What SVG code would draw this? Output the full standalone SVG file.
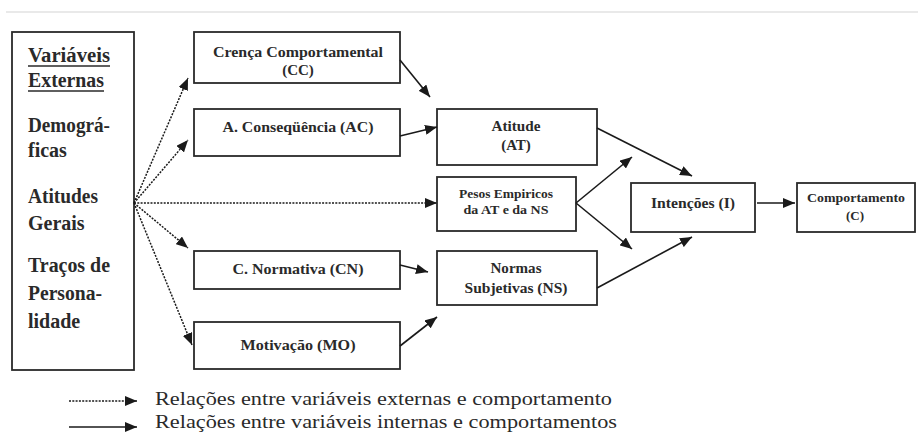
<svg xmlns="http://www.w3.org/2000/svg" width="918" height="434" viewBox="0 0 918 434">
<defs>
<marker id="ah" markerUnits="userSpaceOnUse" markerWidth="13" markerHeight="10" refX="12" refY="5" orient="auto">
<path d="M0,0 L12,5 L0,10 Z" fill="#1a1a1a"/>
</marker>
<style>
.box{fill:#fff;stroke:#2a2a2a;stroke-width:1.8}
.t{font-family:"Liberation Serif","Times New Roman",serif;font-weight:bold;fill:#2a2a2a;text-anchor:middle}
.ext{font-family:"Liberation Serif","Times New Roman",serif;font-weight:bold;fill:#2a2a2a;font-size:20px}
.s{fill:none;stroke:#1a1a1a;stroke-width:1.6;marker-end:url(#ah)}
.d{fill:none;stroke:#1a1a1a;stroke-width:1.5;stroke-dasharray:2 1.3;marker-end:url(#ah)}
.lg{font-family:"Liberation Serif","Times New Roman",serif;fill:#2a2a2a;font-size:19px}
</style>
</defs>
<rect width="918" height="434" fill="#fff"/>
<line x1="6" y1="12" x2="918" y2="12" stroke="#e2e2e2" stroke-width="1.5"/>

<g id="externas">
<rect class="box" x="12" y="32" width="122" height="338"/>
<text class="ext" x="28" y="62" textLength="82" lengthAdjust="spacingAndGlyphs">Variáveis</text>
<line x1="28" y1="66" x2="110" y2="66" stroke="#2a2a2a" stroke-width="1.6"/>
<text class="ext" x="28" y="87" textLength="76" lengthAdjust="spacingAndGlyphs">Externas</text>
<line x1="28" y1="91" x2="104" y2="91" stroke="#2a2a2a" stroke-width="1.6"/>
<text class="ext" x="28" y="132" textLength="82" lengthAdjust="spacingAndGlyphs">Demográ-</text>
<text class="ext" x="28" y="157">ficas</text>
<text class="ext" x="28" y="203" textLength="70" lengthAdjust="spacingAndGlyphs">Atitudes</text>
<text class="ext" x="28" y="230">Gerais</text>
<text class="ext" x="28" y="272" textLength="82" lengthAdjust="spacingAndGlyphs">Traços de</text>
<text class="ext" x="28" y="300" textLength="74" lengthAdjust="spacingAndGlyphs">Persona-</text>
<text class="ext" x="28" y="328">lidade</text>
</g>

<g id="cc">
<rect class="box" x="194" y="32" width="206" height="51"/>
<text class="t" x="298" y="57" font-size="15" textLength="170" lengthAdjust="spacingAndGlyphs">Crença Comportamental</text>
<text class="t" x="298" y="75" font-size="15">(CC)</text>
</g>
<g id="ac">
<rect class="box" x="194" y="109" width="206" height="47"/>
<text class="t" x="298" y="132" font-size="15" textLength="151" lengthAdjust="spacingAndGlyphs">A. Conseqüência (AC)</text>
</g>
<g id="cn">
<rect class="box" x="194" y="251" width="206" height="38"/>
<text class="t" x="298" y="274" font-size="15" textLength="131" lengthAdjust="spacingAndGlyphs">C. Normativa (CN)</text>
</g>
<g id="mo">
<rect class="box" x="194" y="322" width="206" height="47"/>
<text class="t" x="298" y="350" font-size="15" textLength="115" lengthAdjust="spacingAndGlyphs">Motivação (MO)</text>
</g>
<g id="at">
<rect class="box" x="437" y="109" width="160" height="56"/>
<text class="t" x="516" y="131" font-size="15" textLength="49" lengthAdjust="spacingAndGlyphs">Atitude</text>
<text class="t" x="516" y="150" font-size="15">(AT)</text>
</g>
<g id="pesos">
<rect class="box" x="437" y="177" width="139" height="54"/>
<text class="t" x="506" y="198" font-size="12" textLength="94" lengthAdjust="spacingAndGlyphs">Pesos Empiricos</text>
<text class="t" x="506" y="214" font-size="12" textLength="85" lengthAdjust="spacingAndGlyphs">da AT e da NS</text>
</g>
<g id="ns">
<rect class="box" x="437" y="251" width="160" height="54"/>
<text class="t" x="516" y="273" font-size="15" textLength="51" lengthAdjust="spacingAndGlyphs">Normas</text>
<text class="t" x="516" y="293" font-size="15" textLength="103" lengthAdjust="spacingAndGlyphs">Subjetivas (NS)</text>
</g>
<g id="intencoes">
<rect class="box" x="631" y="183" width="124" height="49"/>
<text class="t" x="693" y="208" font-size="15" textLength="84" lengthAdjust="spacingAndGlyphs">Intenções (I)</text>
</g>
<g id="comportamento">
<rect class="box" x="797" y="183" width="118" height="49"/>
<text class="t" x="856" y="202" font-size="13" textLength="98" lengthAdjust="spacingAndGlyphs">Comportamento</text>
<text class="t" x="855" y="220" font-size="13">(C)</text>
</g>

<g id="connectors">
<path class="d" d="M134,203 L188,78"/>
<path class="d" d="M134,203 L188,140"/>
<path class="d" d="M134,203 L437,203"/>
<path class="d" d="M134,203 L188,248"/>
<path class="d" d="M134,203 L192,345"/>
<path class="s" d="M400,60 L430,97"/>
<path class="s" d="M400,136 L437,127"/>
<path class="s" d="M400,265 L428,272"/>
<path class="s" d="M400,346 L437,317"/>
<path class="s" d="M597,128 L692,176"/>
<path class="s" d="M576,203 L632,157"/>
<path class="s" d="M576,203 L632,249"/>
<path class="s" d="M597,288 L692,237"/>
<path class="s" d="M757,203 L795,203"/>
</g>

<g id="legenda">
<path class="d" d="M69,401 L137,401"/>
<text class="lg" x="155" y="405" textLength="457" lengthAdjust="spacingAndGlyphs">Relações entre variáveis externas e comportamento</text>
<path class="s" d="M69,427 L137,427"/>
<text class="lg" x="155" y="428" textLength="462" lengthAdjust="spacingAndGlyphs">Relações entre variáveis internas e comportamentos</text>
</g>
</svg>
